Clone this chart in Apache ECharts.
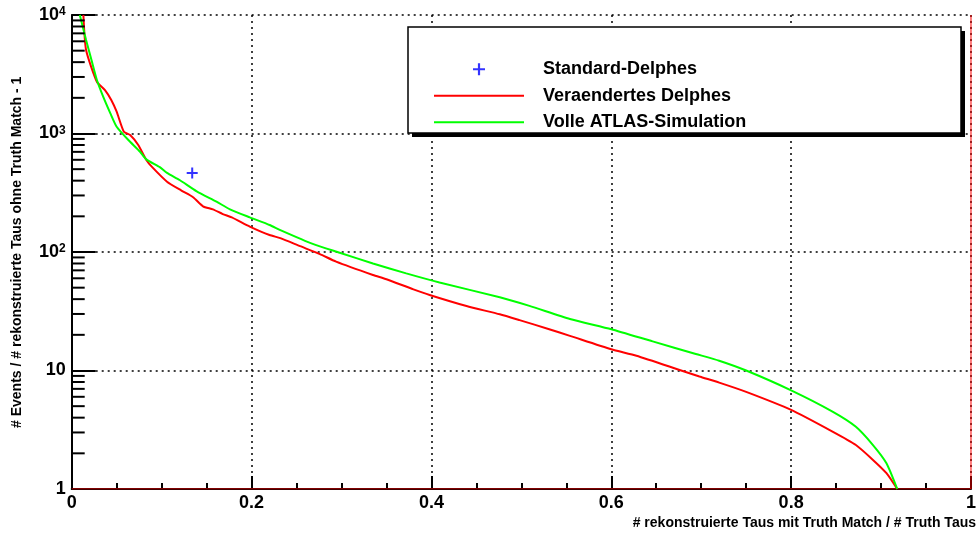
<!DOCTYPE html>
<html>
<head>
<meta charset="utf-8">
<script src="https://cdn.jsdelivr.net/npm/echarts@6/dist/echarts.min.js"></script>
<style>
html,body{margin:0;padding:0;background:#fff;}
#chart{width:979px;height:536px;}
</style>
</head>
<body>
<div id="chart"></div>
<script>
// ---- data ----
const seriesNames = ['Standard-Delphes', 'Veraendertes Delphes', 'Volle ATLAS-Simulation'];
const standardDelphes = [[0.134, 464]];
const veraendertesDelphes = [
  [0.013,10000],[0.016,5070],[0.028,2735],[0.037,2327],[0.044,1920],[0.050,1528],[0.058,1035],
  [0.065,971],[0.074,800],[0.083,598],[0.089,525],[0.106,392],
  [0.122,330],[0.135,290],[0.146,243],[0.157,229],[0.168,209],[0.178,196],[0.198,164],
  [0.220,139],[0.232,131],[0.254,112],[0.276,96],[0.294,83],[0.335,64],[0.350,58.9],
  [0.380,48.4],[0.398,43.4],[0.439,35],[0.476,29.8],[0.498,26.6],[0.531,22.3],[0.554,19.6],
  [0.600,15.1],[0.628,13.3],[0.676,10.1],[0.698,8.9],[0.720,7.9],[0.750,6.6],[0.800,4.65],
  [0.846,3.05],[0.872,2.35],[0.891,1.76],[0.906,1.36],[0.918,1.0]
];
const volleAtlas = [
  [0.009,10000],[0.016,6150],[0.022,4170],[0.028,2826],[0.035,2046],[0.043,1479],[0.050,1140],
  [0.063,881],[0.076,702],[0.083,605],[0.098,520],[0.106,465],[0.120,405],[0.139,325],
  [0.161,266],[0.176,229],[0.198,196],[0.220,169],[0.232,153],[0.268,117],[0.298,98.6],
  [0.335,80],[0.372,66],[0.409,55.3],[0.476,41.5],[0.509,35.1],[0.554,27.2],[0.600,22.3],
  [0.646,17.6],[0.694,13.8],[0.720,12.1],[0.750,10],[0.800,6.8],[0.846,4.5],[0.872,3.35],
  [0.891,2.35],[0.906,1.65],[0.918,1.0]
];
const redEdge = [[0,1],[1,1],[1,10000]];
const yMinorTicks = [2,3,4,5,6,7,8,9,20,30,40,50,60,70,80,90,200,300,400,500,600,700,800,900,2000,3000,4000,5000,6000,7000,8000,9000];
const xTitle = '# rekonstruierte Taus mit Truth Match / # Truth Taus';
const yTitle = '# Events / # rekonstruierte Taus ohne Truth Match - 1';

// ---- chart ----
const FONT = '"Liberation Sans", Arial, Helvetica, sans-serif';
const chart = echarts.init(document.getElementById('chart'), null, {renderer: 'canvas'});
const plusPath = 'path://M9,0H13V9H22V13H13V22H9V13H0V9H9Z';

const option = {
  animation: false,
  backgroundColor: '#ffffff',
  grid: {left: 71.7, right: 7.3, top: 15, bottom: 47, containLabel: false},
  xAxis: {
    type: 'value', min: 0, max: 1, interval: 0.2,
    axisLine: {show: true, onZero: false, lineStyle: {color: '#000', width: 2}},
    axisTick: {show: true, inside: true, length: 13, lineStyle: {color: '#000', width: 2}},
    minorTick: {show: true, splitNumber: 4, length: 6, lineStyle: {color: '#000', width: 2}},
    axisLabel: {color: '#000', fontFamily: FONT, fontWeight: 'bold', fontSize: 18, margin: 5},
    splitLine: {show: true, lineStyle: {color: '#000', width: 1.5, type: [2, 4]}}
  },
  yAxis: {
    type: 'log', logBase: 10, min: 1, max: 10000,
    axisLine: {show: true, onZero: false, lineStyle: {color: '#000', width: 2}},
    axisTick: {show: true, inside: true, length: 24, lineStyle: {color: '#000', width: 2}},
    axisLabel: {
      color: '#000', fontFamily: FONT, fontWeight: 'bold', fontSize: 18, margin: 6,
      formatter: function (v) {
        const e = Math.round(Math.log10(v));
        if (e === 0) return '1';
        if (e === 1) return '10';
        return '10{sup|' + e + '}';
      },
      rich: {sup: {fontFamily: FONT, fontWeight: 'bold', fontSize: 12, verticalAlign: 'top', color: '#000'}}
    },
    splitLine: {show: true, lineStyle: {color: '#000', width: 1.5, type: [2, 4]}}
  },
  legend: {
    left: 428, top: 51, orient: 'vertical',
    itemWidth: 90, itemHeight: 12, itemGap: 0,
    selectedMode: false,
    data: [
      {name: seriesNames[0]},
      {name: seriesNames[1], itemStyle: {opacity: 0}},
      {name: seriesNames[2], itemStyle: {opacity: 0}}
    ],
    textStyle: {color: '#000', fontFamily: FONT, fontWeight: 'bold', fontSize: 18, lineHeight: 26.5, padding: [0, 0, 0, 14]}
  },
  graphic: [
    {type: 'rect', z: 3, shape: {x: 412, y: 31, width: 553, height: 106},
     style: {fill: '#000', stroke: null}},
    {type: 'rect', z: 3, shape: {x: 408, y: 27, width: 553, height: 106},
     style: {fill: '#fff', stroke: '#000', lineWidth: 1.5}},
    {type: 'text', z: 10, x: 976, y: 523,
     style: {text: xTitle, fill: '#000', font: 'bold 14px ' + FONT, textAlign: 'right', textVerticalAlign: 'middle'}},
    {type: 'text', z: 10, x: 17, y: 428, rotation: Math.PI / 2,
     style: {text: yTitle, fill: '#000', font: 'bold 14px ' + FONT, textAlign: 'left', textVerticalAlign: 'middle'}}
  ],
  series: [
    {name: seriesNames[0], type: 'scatter', data: standardDelphes, symbol: plusPath, symbolSize: 11,
     symbolKeepAspect: true, itemStyle: {color: '#0000ff'}, z: 5},
    {name: seriesNames[1], type: 'line', data: veraendertesDelphes, symbol: 'none', smooth: 0.2,
     lineStyle: {color: '#ff0000', width: 2}, itemStyle: {color: '#ff0000'}, z: 2},
    {name: seriesNames[2], type: 'line', data: volleAtlas, symbol: 'none', smooth: 0.2,
     lineStyle: {color: '#00ff00', width: 2}, itemStyle: {color: '#00ff00'}, z: 2},
    {name: 'edge', type: 'line', data: redEdge, symbol: 'none', silent: true,
     lineStyle: {color: '#ff0000', width: 1}, z: 1},
    {name: 'yMinor', type: 'custom', silent: true, clip: false, z: 6,
     data: yMinorTicks.map(function (v) { return [0, v]; }),
     renderItem: function (params, api) {
       const p = api.coord([0, api.value(1)]);
       return {type: 'line', shape: {x1: p[0], y1: p[1], x2: p[0] + 13, y2: p[1]},
               style: {stroke: '#000', lineWidth: 2}};
     }}
  ]
};
chart.setOption(option);
</script>
</body>
</html>
